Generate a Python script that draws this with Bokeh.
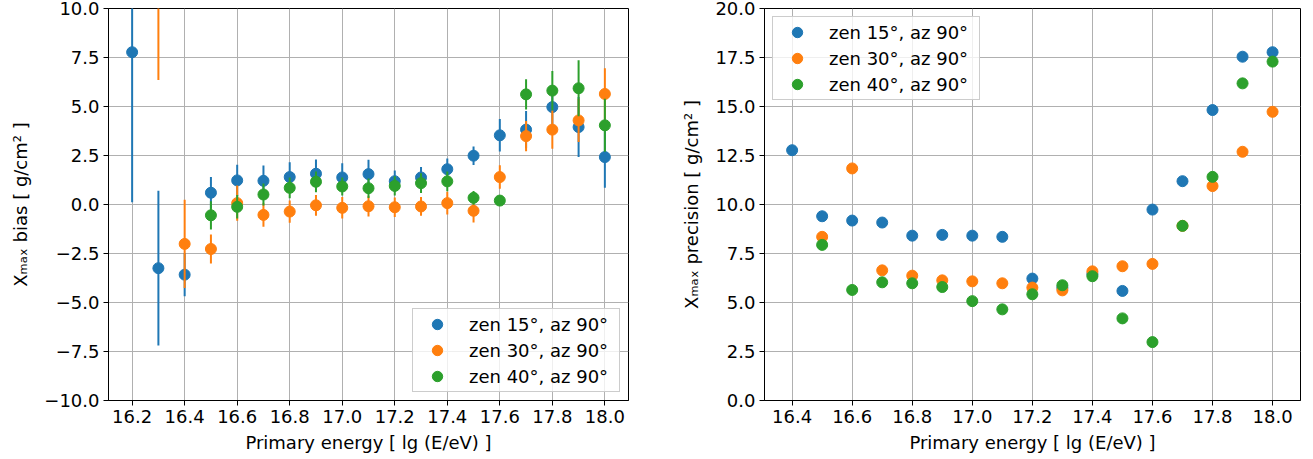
import numpy as np
from bokeh.plotting import figure
from bokeh.models import (Range1d, FixedTicker, CustomJSTickFormatter, Legend,
                          LegendItem, ColumnDataSource)
from bokeh.layouts import row
from bokeh.embed import file_html
from bokeh.resources import INLINE

nan = float("nan")

# ---------------- data ----------------
series_labels = ["zen 15°, az 90°", "zen 30°, az 90°", "zen 40°, az 90°"]

energy_bias = [16.2, 16.3, 16.4, 16.5, 16.6, 16.7, 16.8, 16.9, 17.0, 17.1,
               17.2, 17.3, 17.4, 17.5, 17.6, 17.7, 17.8, 17.9, 18.0]
bias_15 = [7.77, -3.25, -3.58, 0.60, 1.23, 1.21, 1.40, 1.57, 1.38, 1.55,
           1.19, 1.38, 1.80, 2.49, 3.53, 3.82, 4.97, 3.95, 2.42]
bias_15_err = [7.65, 3.95, 1.10, 0.80, 0.80, 0.78, 0.75, 0.73, 0.72, 0.73,
               0.55, 0.53, 0.55, 0.47, 0.83, 0.95, 0.90, 1.53, 1.57]
bias_30 = [nan, 12.6, -2.01, -2.27, 0.07, -0.53, -0.36, -0.04, -0.17, -0.09,
           -0.14, -0.10, 0.07, -0.32, 1.40, 3.49, 3.82, 4.29, 5.64]
bias_30_err = [nan, 6.25, 2.25, 0.74, 0.90, 0.60, 0.57, 0.53, 0.55, 0.52,
               0.50, 0.48, 0.58, 0.60, 0.60, 0.77, 0.97, 1.10, 1.31]
bias_40 = [nan, nan, nan, -0.55, -0.12, 0.51, 0.85, 1.16, 0.92, 0.83,
           0.95, 1.09, 1.18, 0.34, 0.20, 5.62, 5.81, 5.93, 4.04]
bias_40_err = [nan, nan, nan, 0.72, 0.60, 0.56, 0.53, 0.53, 0.46, 0.50,
               0.49, 0.50, 0.50, 0.35, 0.20, 0.77, 1.00, 1.43, 1.35]

energy_prec = [16.4, 16.5, 16.6, 16.7, 16.8, 16.9, 17.0, 17.1, 17.2, 17.3,
               17.4, 17.5, 17.6, 17.7, 17.8, 17.9, 18.0]
prec_15 = [12.77, 9.40, 9.18, 9.08, 8.41, 8.45, 8.41, 8.35, 6.22, 5.75,
           6.45, 5.59, 9.74, 11.19, 14.82, 17.54, 17.77]
prec_30 = [nan, 8.35, 11.84, 6.64, 6.37, 6.13, 6.08, 5.98, 5.76, 5.62,
           6.59, 6.85, 6.97, 8.91, 10.94, 12.69, 14.73]
prec_40 = [nan, 7.94, 5.64, 6.03, 5.98, 5.79, 5.07, 4.65, 5.42, 5.88,
           6.34, 4.19, 2.98, 8.91, 11.41, 16.18, 17.29]

bias_ticks_x = [16.2, 16.4, 16.6, 16.8, 17.0, 17.2, 17.4, 17.6, 17.8, 18.0]
bias_ticks_y = [-10.0, -7.5, -5.0, -2.5, 0.0, 2.5, 5.0, 7.5, 10.0]
prec_ticks_x = [16.4, 16.6, 16.8, 17.0, 17.2, 17.4, 17.6, 17.8, 18.0]
prec_ticks_y = [0.0, 2.5, 5.0, 7.5, 10.0, 12.5, 15.0, 17.5, 20.0]

# ---------------- style ----------------
FONT = "DejaVu Sans"
FS = "18px"
COLORS = ["#1f77b4", "#ff7f0e", "#2ca02c"]
fmt = CustomJSTickFormatter(code="return tick.toFixed(1).replace('-', '\\u2212')")


def style(p, xticks, yticks, ylabel):
    p.outline_line_color = "black"
    p.outline_line_width = 1
    p.outline_line_alpha = 1
    p.xaxis.ticker = FixedTicker(ticks=xticks)
    p.yaxis.ticker = FixedTicker(ticks=yticks)
    p.xaxis.axis_label = "Primary energy [ lg (E/eV) ]"
    p.yaxis.axis_label = ylabel
    for ax in (p.xaxis[0], p.yaxis[0]):
        ax.formatter = fmt
        ax.axis_line_color = "black"
        ax.axis_line_width = 1
        ax.major_tick_line_color = "black"
        ax.major_tick_out = 5
        ax.major_tick_in = 0
        ax.minor_tick_out = 0
        ax.minor_tick_in = 0
        ax.major_label_text_font = FONT
        ax.major_label_text_font_size = FS
        ax.major_label_text_color = "black"
        ax.axis_label_text_font = FONT
        ax.axis_label_text_font_size = FS
        ax.axis_label_text_font_style = "normal"
        ax.axis_label_text_color = "black"
        ax.major_label_standoff = 4
    p.yaxis.axis_label_standoff = 10
    p.xaxis.axis_label_standoff = 6
    for g in (p.xgrid[0], p.ygrid[0]):
        g.grid_line_color = "#b0b0b0"
        g.grid_line_width = 1


def style_legend(lg):
    lg.label_text_font = FONT
    lg.label_text_font_size = FS
    lg.label_text_color = "black"
    lg.glyph_width = 44
    lg.glyph_height = 26
    lg.label_height = 26
    lg.label_standoff = 10
    lg.label_width = 148
    lg.padding = 2
    lg.spacing = 0
    lg.margin = 8
    lg.border_line_color = "#cccccc"
    lg.border_line_width = 1
    lg.border_line_alpha = 1
    lg.background_fill_color = "white"
    lg.background_fill_alpha = 0.8


# ---------------- left: bias ----------------
p1 = figure(width=656, height=459, output_backend="svg", toolbar_location=None,
            x_range=Range1d(16.11, 18.09), y_range=Range1d(-10, 10),
            min_border_left=108, min_border_right=28, min_border_top=8,
            min_border_bottom=59)
style(p1, bias_ticks_x, bias_ticks_y, "Xₘₐₓ bias [ g/cm² ]")

items1 = []
for vals, errs, col, lab in zip((bias_15, bias_30, bias_40),
                                (bias_15_err, bias_30_err, bias_40_err),
                                COLORS, series_labels):
    v = np.array(vals, dtype=float)
    e = np.array(errs, dtype=float)
    src = ColumnDataSource(dict(x=energy_bias, y=v, lo=v - e, hi=v + e))
    p1.segment(x0="x", y0="lo", x1="x", y1="hi", source=src,
               line_color=col, line_width=2)
    r = p1.scatter(x="x", y="y", source=src, size=11, fill_color=col,
                   line_color=col)
    items1.append(LegendItem(label=lab, renderers=[r]))

lg1 = Legend(items=items1, location="bottom_right")
style_legend(lg1)
p1.add_layout(lg1)

# ---------------- right: precision ----------------
p2 = figure(width=657, height=459, output_backend="svg", toolbar_location=None,
            x_range=Range1d(16.308, 18.093), y_range=Range1d(0, 20),
            min_border_left=108, min_border_right=13, min_border_top=8,
            min_border_bottom=59)
style(p2, prec_ticks_x, prec_ticks_y, "Xₘₐₓ precision [ g/cm² ]")

items2 = []
for vals, col, lab in zip((prec_15, prec_30, prec_40), COLORS, series_labels):
    src = ColumnDataSource(dict(x=energy_prec, y=vals))
    r = p2.scatter(x="x", y="y", source=src, size=11, fill_color=col,
                   line_color=col)
    items2.append(LegendItem(label=lab, renderers=[r]))

lg2 = Legend(items=items2, location="top_left")
style_legend(lg2)
p2.add_layout(lg2)

layout = row(p1, p2)
open("out.html", "w").write(file_html(layout, INLINE))
